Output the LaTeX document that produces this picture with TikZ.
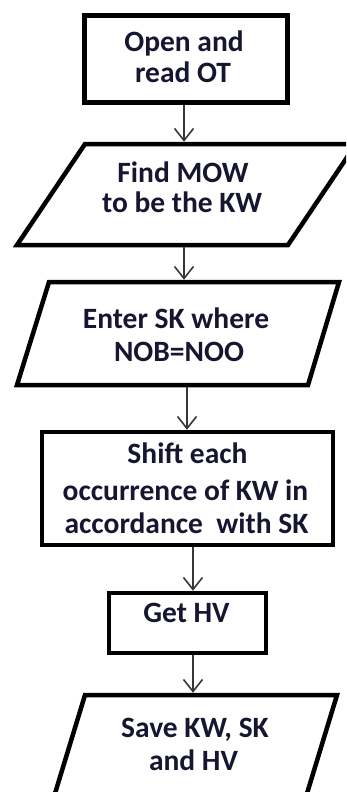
\documentclass[tikz,border=0pt]{standalone}
\usepackage{fontspec}
\setmainfont{Carlito}
\usetikzlibrary{arrows.meta}
\definecolor{txt}{RGB}{22,22,48}
\definecolor{arrc}{RGB}{55,55,55}
\tikzset{
  outline/.style={draw=black, line width=4.5pt, line join=miter},
  boxnode/.style={outline, rectangle, inner sep=0pt, outer sep=2.25pt},
  area/.style={rectangle, draw=none, inner sep=0pt, outer sep=0pt},
  lbl/.style={anchor=base, inner sep=0pt, text=txt,
    font=\fontsize{29.5}{32}\selectfont\bfseries},
  arr/.style={draw=arrc, line width=1.6pt,
    -{Straight Barb[length=12pt,width=19pt,line width=1.6pt]}}
}
\begin{document}
\begin{tikzpicture}[x=1pt,y=-1pt]
\useasboundingbox (0,0) rectangle (346,792);
\begin{scope}
\clip (0,0) rectangle (346,792);
% shapes
\node[boxnode, minimum width=203pt, minimum height=87pt] (open) at (186,59) {};
\node[area, minimum width=339pt, minimum height=101pt] (find) at (186.5,194.5) {};
\draw[outline] ([xshift=68pt]find.north west) -- (find.north east)
  -- ([xshift=-68pt]find.south east) -- (find.south west) -- cycle;
\node[area, minimum width=322pt, minimum height=103pt] (enter) at (178,333.5) {};
\draw[outline] ([xshift=32pt]enter.north west) -- (enter.north east)
  -- ([xshift=-31pt]enter.south east) -- (enter.south west) -- cycle;
\node[boxnode, minimum width=291pt, minimum height=113pt] (shift) at (187.5,488.5) {};
\node[boxnode, minimum width=157pt, minimum height=60pt] (get) at (187.5,623) {};
\node[area, minimum width=284pt, minimum height=105pt] (save) at (195,747.5) {};
\draw[outline] ([xshift=32pt]save.north west) -- (save.north east)
  -- ([xshift=-32pt]save.south east) -- (save.south west) -- cycle;
% texts
\node[lbl] (t1a) at (184,52) {Open and};
\node[lbl] (t1b) at (183,82) {read OT};
\node[lbl] (t2a) at (183,182) {Find MOW};
\node[lbl] (t2b) at (182,212) {to be the KW};
\node[lbl] (t3a) at (176,328) {Enter SK where};
\node[lbl] (t3b) at (179,361) {NOB=NOO};
\node[lbl] (t4a) at (187.5,463) {Shift each};
\node[lbl] (t4b) at (185.5,500) {occurrence of KW in};
\node[lbl] (t4c) at (186.5,533) {accordance\ \ with SK};
\node[lbl] (t5a) at (186.5,622) {Get HV};
\node[lbl] (t6a) at (195,737) {Save KW, SK};
\node[lbl] (t6b) at (193.5,770) {and HV};
% connectors
\draw[arr] ([xshift=-2pt]open.south) -- ([xshift=-2.5pt,yshift=2.25pt]find.north);
\draw[arr] ([xshift=-2.5pt,yshift=-2.25pt]find.south) -- ([xshift=6pt,yshift=2.25pt]enter.north);
\draw[arr] ([xshift=9pt,yshift=-2.25pt]enter.south) -- ([xshift=-0.5pt]shift.north);
\draw[arr] ([xshift=5.5pt]shift.south) -- ([xshift=5.5pt]get.north);
\draw[arr] ([xshift=5.5pt]get.south) -- ([xshift=-2pt,yshift=2.25pt]save.north);
\end{scope}
\end{tikzpicture}
\end{document}
